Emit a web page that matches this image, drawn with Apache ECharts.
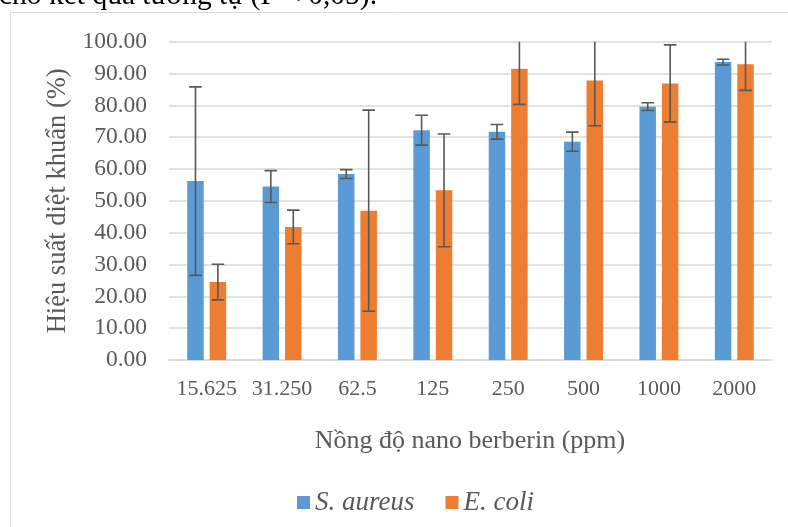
<!DOCTYPE html>
<html><head><meta charset="utf-8">
<script src="https://cdn.jsdelivr.net/npm/echarts@6/dist/echarts.min.js"></script>
<style>html,body{margin:0;padding:0;background:#fff}#c{width:788px;height:527px}</style>
</head><body><div id="c"></div>
<script>
var categories = ['15.625', '31.250', '62.5', '125', '250', '500', '1000', '2000'];
var saureus = [56.2, 54.5, 58.4, 72.2, 71.7, 68.6, 79.6, 93.6];
var saureusErr = [29.6, 5.0, 1.4, 4.7, 2.3, 3.0, 1.2, 0.9];
var ecoli = [24.5, 41.8, 46.9, 53.3, 91.5, 87.8, 86.9, 92.9];
var ecoliErr = [5.6, 5.3, 31.6, 17.7, 11.2, 14.2, 12.1, 8.2];
var yTicks = [0, 10, 20, 30, 40, 50, 60, 70, 80, 90, 100];

var BAR_W = 16.5, GAP = 0.36;
var serif = '"Liberation Serif", "Times New Roman", serif';
var txt = '#595959';

function errSeries(vals, errs, side) {
  return {
    type: 'custom', clip: true, z: 5,
    data: vals.map(function (v, i) { return [i, v - errs[i], v + errs[i]]; }),
    renderItem: function (params, api) {
      var i = api.value(0);
      var lo = api.coord([i, api.value(1)]);
      var hi = api.coord([i, api.value(2)]);
      var off = side * (BAR_W + BAR_W * GAP) / 2;
      var x = lo[0] + off, cap = 6.3;
      var st = { stroke: '#595959', lineWidth: 1.6 };
      return { type: 'group', children: [
        { type: 'line', shape: { x1: x, y1: lo[1], x2: x, y2: hi[1] }, style: st },
        { type: 'line', shape: { x1: x - cap, y1: lo[1], x2: x + cap, y2: lo[1] }, style: st },
        { type: 'line', shape: { x1: x - cap, y1: hi[1], x2: x + cap, y2: hi[1] }, style: st }
      ]};
    }
  };
}

var chart = echarts.init(document.getElementById('c'), null, { renderer: 'canvas' });
chart.setOption({
  animation: false,
  textStyle: { fontFamily: serif },
  grid: { left: 169, right: 16, top: 41.7, bottom: 167, containLabel: false },
  graphic: [
    { type: 'rect', shape: { x: 10.5, y: 12.5, width: 900, height: 600 }, style: { fill: 'none', stroke: '#d9d9d9', lineWidth: 1 }, silent: true },
    { type: 'text', x: -1, y: 11, style: { text: 'cho kết quả tương tự (P < 0,05).', font: '29.5px ' + serif, fill: '#000', verticalAlign: 'bottom' } },
    { type: 'text', x: 470, y: 441, style: { text: 'Nồng độ nano berberin (ppm)', font: '26px ' + serif, fill: txt, align: 'center', verticalAlign: 'middle' } }
  ],
  legend: {
    left: 292, top: 484, icon: 'rect', itemWidth: 13, itemHeight: 13, itemGap: 31,
    textStyle: { fontFamily: serif, fontSize: 27, fontStyle: 'italic', color: txt },
    data: ['S. aureus', 'E. coli']
  },
  xAxis: {
    type: 'category', data: categories,
    axisLine: { lineStyle: { color: '#d9d9d9', width: 1.5 } },
    axisTick: { show: false },
    axisLabel: { color: txt, fontSize: 22, fontFamily: serif, margin: 18, interval: 0, hideOverlap: false }
  },
  yAxis: {
    type: 'value', min: yTicks[0], max: yTicks[yTicks.length - 1], interval: 10,
    name: 'Hiệu suất diệt khuẩn (%)', nameLocation: 'middle', nameGap: 96, nameRotate: 90,
    nameTextStyle: { color: txt, fontSize: 26.5, fontFamily: serif },
    axisLine: { show: false }, axisTick: { show: false },
    splitLine: { lineStyle: { color: '#d9d9d9', width: 1.5 } },
    axisLabel: { color: txt, fontSize: 23.5, fontFamily: serif, margin: 22, formatter: function (v) { return v.toFixed(2); } }
  },
  series: [
    { name: 'S. aureus', type: 'bar', data: saureus, barWidth: BAR_W, barGap: (GAP * 100) + '%', itemStyle: { color: '#5B9BD5' } },
    { name: 'E. coli', type: 'bar', data: ecoli, barWidth: BAR_W, barGap: (GAP * 100) + '%', itemStyle: { color: '#ED7D31' } },
    errSeries(saureus, saureusErr, -1),
    errSeries(ecoli, ecoliErr, 1)
  ]
});
</script></body></html>
